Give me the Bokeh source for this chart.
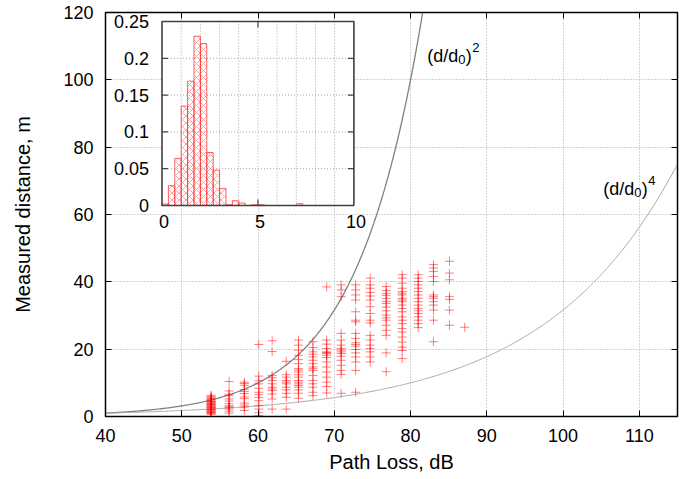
import numpy as np
from bokeh.plotting import figure
from bokeh.models import LinearAxis, Range1d, FixedTicker
from bokeh.core.properties import value
from bokeh.embed import file_html
from bokeh.resources import INLINE

FONT = "Liberation Sans"

# ---------------- data ----------------
x_ticks = [40, 50, 60, 70, 80, 90, 100, 110]
y_ticks = [0, 20, 40, 60, 80, 100, 120]

# path-loss columns (dB) of the measurement scatter
path_loss = [53.85, 56.2, 58.2, 60.1, 61.85, 63.7, 65.3, 67.2, 69.0,
             70.9, 72.8, 74.7, 76.8, 78.9, 81.0, 83.0, 85.1, 87.1]

dist_53 = [0.6, 0.9, 1.1, 1.3, 1.5, 1.7, 1.9, 2.1, 2.3, 2.5, 2.7, 2.9, 3.1, 3.3,
           3.5, 3.7, 3.9, 4.1, 4.3, 4.5, 4.8, 5.1, 5.4, 5.7, 6.0, 6.3, 1.2, 2.0,
           2.8, 3.6, 4.4, 5.2]
dist_56 = [10.4, 7.6, 6.6, 6.2, 5.2, 4.6, 3.8, 3.2, 2.6, 2.2, 1.6, 1.0, 2.9]
dist_58 = [10.2, 9.3, 8.0, 7.4, 6.8, 5.8, 5.3, 4.0, 3.4, 2.8, 1.8, 9.8]
dist_60 = [21.4, 10.6, 9.7, 8.4, 7.2, 5.7, 4.7, 3.2, 2.2, 1.1, 0.3, 12.0, 6.5]
dist_62 = [22.5, 19.3, 12.2, 10.7, 9.7, 8.7, 7.7, 6.7, 5.2, 2.2, 11.5, 8.2]
dist_64 = [16.4, 11.7, 10.7, 9.7, 8.7, 7.9, 6.9, 5.7, 2.2, 10.2, 12.4]
dist_65 = [22.7, 21.2, 19.7, 18.2, 16.9, 15.7, 14.2, 13.2, 11.7, 10.7, 9.7, 8.7,
           7.9, 6.9, 5.4, 12.4, 13.8, 10.2, 9.2]
dist_67 = [22.2, 20.5, 19.2, 17.7, 16.7, 15.7, 14.7, 13.7, 12.2, 10.7, 9.7, 8.7,
           7.2, 6.2, 18.5, 14.2]
dist_69 = [38.5, 22.7, 21.5, 20.2, 19.2, 18.7, 17.5, 16.2, 14.7, 11.7, 10.2, 8.9,
           19.0, 18.2, 7.0, 13.2]
dist_71 = [39.1, 37.6, 35.6, 24.7, 22.7, 21.2, 19.7, 18.7, 17.9, 16.7, 15.2, 13.7,
           12.5, 6.9, 20.2, 19.2]
dist_73 = [39.1, 37.6, 36.1, 34.6, 31.1, 28.6, 28.1, 24.7, 23.2, 21.9, 20.9, 19.9,
           18.9, 17.7, 16.2, 13.7, 7.2, 21.4]
dist_75 = [41.1, 39.1, 38.1, 36.8, 35.8, 34.6, 32.6, 30.6, 28.6, 27.8, 24.1, 22.7,
           21.2, 20.2, 19.2, 17.7, 16.2]
dist_77 = [38.6, 37.4, 36.6, 35.1, 33.6, 31.4, 30.1, 28.6, 27.1, 25.6, 24.1, 18.9,
           13.3, 36.0, 34.2, 32.5, 29.3]
dist_79 = [42.1, 41.1, 39.6, 38.1, 37.1, 36.1, 35.1, 34.1, 33.1, 32.1, 31.1, 29.6,
           28.6, 27.6, 26.1, 25.1, 23.6, 22.1, 20.6, 19.6, 17.2, 36.6, 34.6]
dist_81 = [42.1, 41.1, 40.1, 39.1, 38.1, 37.1, 35.1, 34.1, 33.1, 32.1, 30.6, 29.6,
           28.6, 27.6, 26.4, 36.1, 31.4]
dist_83 = [45.1, 44.1, 43.1, 41.6, 40.1, 36.1, 35.1, 34.1, 33.1, 31.6, 28.6, 22.2,
           35.6]
dist_85 = [46.1, 42.6, 40.6, 35.6, 34.8, 31.6, 27.1]
dist_87 = [26.5]

dist_columns = [dist_53, dist_56, dist_58, dist_60, dist_62, dist_64, dist_65,
                dist_67, dist_69, dist_71, dist_73, dist_75, dist_77, dist_79,
                dist_81, dist_83, dist_85, dist_87]

# reference model (d/d0)^n : PL = PL0 + 10 n log10(d/d0)
ref_pl0 = 40.0
ref_exponents = [2, 4]
ref_labels = ["2", "4"]

# inset histogram (ratio), bin width 1/3
hist_bin_width = 1.0 / 3.0
hist_left = [0, 1/3, 2/3, 1, 4/3, 5/3, 2, 7/3, 8/3, 3, 10/3, 11/3, 4, 14/3, 5, 7]
hist_freq = [0.002, 0.027, 0.064, 0.135, 0.169, 0.230, 0.220, 0.072, 0.048,
             0.023, 0.001, 0.0065, 0.0033, 0.001, 0.001, 0.0025]
inset_x_ticks = [0, 5, 10]
inset_x_grid = [1, 2, 3, 4, 5, 6, 7, 8, 9]
inset_y_ticks = [0, 0.05, 0.1, 0.15, 0.2, 0.25]
inset_y_labels = ["0", "0.05", "0.1", "0.15", "0.2", "0.25"]

# ---------------- layout ----------------
W, H = 694, 479
FL, FT, FW, FH = 105, 12, 572, 404          # main frame in px
IX0, IXS = 161.5, 19.19                      # inset: px of x=0, px per unit
IY0, IYS = 205.0, 736.0                      # inset: px of y=0, px per unit

p = figure(width=W, height=H, x_range=Range1d(40, 115), y_range=Range1d(0, 120),
           output_backend="svg", toolbar_location=None,
           min_border_left=FL, min_border_right=W - FL - FW,
           min_border_top=FT, min_border_bottom=H - FT - FH,
           x_axis_label="Path Loss, dB", y_axis_label="Measured distance, m")
p.background_fill_color = "white"
p.border_fill_color = "white"
p.outline_line_color = "black"
p.outline_line_width = 1.5

for ax in (p.xaxis[0], p.yaxis[0]):
    ax.major_label_text_font = FONT
    ax.major_label_text_font_size = "18px"
    ax.major_label_text_color = "black"
    ax.axis_label_text_font = FONT
    ax.axis_label_text_font_size = "20px"
    ax.axis_label_text_font_style = "normal"
    ax.axis_label_text_color = "black"
    ax.major_tick_in = 6
    ax.major_tick_out = 0
    ax.minor_tick_line_color = None
    ax.axis_line_color = "black"
    ax.major_tick_line_color = "black"
p.xaxis[0].ticker = FixedTicker(ticks=x_ticks)
p.yaxis[0].ticker = FixedTicker(ticks=y_ticks)
p.xaxis[0].major_label_standoff = 12
p.xaxis[0].axis_label_standoff = 6
p.yaxis[0].major_label_standoff = 12
p.yaxis[0].axis_label_standoff = 26

top_ax = LinearAxis(ticker=FixedTicker(ticks=x_ticks),
                    major_label_overrides={t: "" for t in x_ticks},
                    major_tick_in=6, major_tick_out=0, minor_tick_line_color=None,
                    axis_line_color="black", major_label_standoff=0)
right_ax = LinearAxis(ticker=FixedTicker(ticks=y_ticks),
                      major_label_overrides={t: "" for t in y_ticks},
                      major_tick_in=6, major_tick_out=0, minor_tick_line_color=None,
                      axis_line_color="black", major_label_standoff=0)
p.add_layout(top_ax, "above")
p.add_layout(right_ax, "right")

p.xgrid.ticker = FixedTicker(ticks=x_ticks)
p.ygrid.ticker = FixedTicker(ticks=y_ticks)
for g in (p.xgrid[0], p.ygrid[0]):
    g.grid_line_color = "#a8a8a8"
    g.grid_line_dash = "1 2"
    g.grid_line_width = 1

# ---------------- reference curves ----------------
pl_curve = np.linspace(40, 115, 600)
curve_colors = ["#808080", "#a6a6a6"]
curve_widths = [1.3, 1.0]
for n, col, lw in zip(ref_exponents, curve_colors, curve_widths):
    d = 10 ** ((pl_curve - ref_pl0) / (10.0 * n))
    p.line(pl_curve, d, line_color=col, line_width=lw)

# ---------------- scatter ----------------
xs, ys = [], []
for x, ds in zip(path_loss, dist_columns):
    xs += [x] * len(ds)
    ys += ds
p.scatter(xs, ys, marker="cross", size=9, line_color="red", line_alpha=0.5,
          line_width=1)

# ---------------- curve labels ----------------
def curve_label(x, y, sup):
    kw = dict(text_font=value(FONT), text_color="black", text_align="left",
              text_baseline="alphabetic")
    p.text(x=[x], y=[y], text=["(d/d"], text_font_size="18px", **kw)
    p.text(x=[x], y=[y], text=["0"], text_font_size="13px", x_offset=31,
           y_offset=4, **kw)
    p.text(x=[x], y=[y], text=[")"], text_font_size="18px", x_offset=38.5, **kw)
    p.text(x=[x], y=[y], text=[sup], text_font_size="13px", x_offset=45,
           y_offset=-8, **kw)

curve_label(82.18, 107.2, ref_labels[0])
curve_label(105.25, 67.7, ref_labels[1])

# ---------------- inset histogram ----------------
p.extra_x_ranges = {"ix": Range1d(start=(FL - IX0) / IXS, end=(FL + FW - IX0) / IXS)}
p.extra_y_ranges = {"iy": Range1d(start=-(FT + FH - IY0) / IYS, end=(IY0 - FT) / IYS)}
ik = dict(x_range_name="ix", y_range_name="iy")
x_lo, x_hi = inset_x_ticks[0], inset_x_ticks[-1]
y_lo, y_hi = inset_y_ticks[0], inset_y_ticks[-1]

p.quad(left=[x_lo], right=[x_hi], bottom=[y_lo], top=[y_hi], fill_color="white",
       line_color=None, **ik)
p.segment(x0=inset_x_grid, y0=[y_lo] * len(inset_x_grid), x1=inset_x_grid,
          y1=[y_hi] * len(inset_x_grid), line_color="#a8a8a8", line_dash="1 2", **ik)
iyg = inset_y_ticks[1:-1]
p.segment(x0=[x_lo] * len(iyg), y0=iyg, x1=[x_hi] * len(iyg), y1=iyg,
          line_color="#a8a8a8", line_dash="1 2", **ik)

hist_right = [l + hist_bin_width for l in hist_left]
p.quad(left=hist_left, right=hist_right, bottom=[0] * len(hist_left), top=hist_freq,
       fill_color=None, line_color="#ff3030", line_alpha=0.75, line_width=1,
       hatch_pattern="diagonal_cross", hatch_color="#ff5a5a", hatch_alpha=0.55,
       hatch_scale=7, hatch_weight=1, **ik)

# inset ticks (inward, 6 px)
tx = 6.0 / IXS
ty = 6.0 / IYS
p.segment(x0=[x_lo] * len(iyg), y0=iyg, x1=[x_lo + tx] * len(iyg), y1=iyg,
          line_color="#444444", line_width=1.2, **ik)
p.segment(x0=[x_hi - tx] * len(iyg), y0=iyg, x1=[x_hi] * len(iyg), y1=iyg,
          line_color="#444444", line_width=1.2, **ik)
ixt = inset_x_ticks[1:-1]
p.segment(x0=ixt, y0=[y_lo] * len(ixt), x1=ixt, y1=[y_lo + ty] * len(ixt),
          line_color="#444444", line_width=1.2, **ik)
p.segment(x0=ixt, y0=[y_hi] * len(ixt), x1=ixt, y1=[y_hi - ty] * len(ixt),
          line_color="#444444", line_width=1.2, **ik)

p.quad(left=[x_lo], right=[x_hi], bottom=[y_lo], top=[y_hi], fill_color=None,
       line_color="#404040", line_width=1.6, **ik)

p.text(x=[x_lo] * len(inset_y_ticks), y=inset_y_ticks, text=inset_y_labels,
       x_offset=-13, text_align="right", text_baseline="middle",
       text_font=value(FONT), text_font_size="18px", text_color="black", **ik)
p.text(x=inset_x_ticks, y=[y_lo] * len(inset_x_ticks),
       text=[str(t) for t in inset_x_ticks], x_offset=2, y_offset=9,
       text_align="center", text_baseline="top",
       text_font=value(FONT), text_font_size="18px", text_color="black", **ik)

open("out.html", "w").write(file_html(p, INLINE))
